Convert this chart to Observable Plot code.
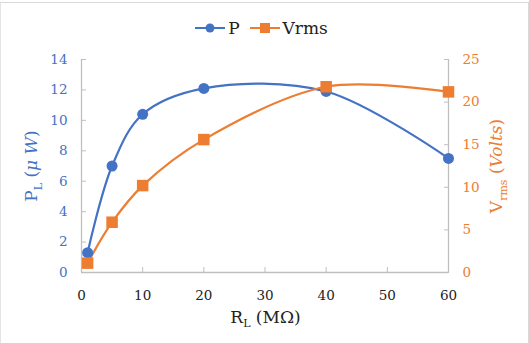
<!DOCTYPE html>
<html>
<head>
<meta charset="utf-8">
<script src="https://cdn.jsdelivr.net/npm/d3@7"></script>
<script src="https://cdn.jsdelivr.net/npm/@observablehq/plot@0.6"></script>
<style>
  body { margin: 0; background: #fff; }
  #wrap { position: relative; width: 529px; height: 341px; box-sizing: border-box; border-top: 1px solid #d9d9d9; border-left: 1px solid #e4e4e4; border-right: 1px solid #d9d9d9; overflow: hidden; font-family: "DejaVu Serif", serif; margin-top: 2px;}
  #legend { height: 42px; display: flex; justify-content: center; align-items: flex-end; gap: 10px; font-size: 17px; color: #222; padding-right: 6px; box-sizing: border-box; padding-bottom: 7px;}
  .item { display: flex; align-items: center; gap: 3px; }
  svg { display: block; }
  #chart svg text { stroke-width: 0.35px; }
</style>
</head>
<body>
<div id="wrap">
  <div id="legend"></div>
  <div id="chart"></div>
</div>
<script>
const RL = [1, 5, 10, 20, 40, 60];
const P = [1.3, 7.0, 10.4, 12.1, 11.9, 7.5];
const Vrms = [1.1, 5.9, 10.2, 15.6, 21.8, 21.2];
const xTicks = [0, 10, 20, 30, 40, 50, 60];
const leftTicks = [0, 2, 4, 6, 8, 10, 12, 14];
const rightTicks = [0, 5, 10, 15, 20, 25];

const blue = "#4472C4", orange = "#ED7D31", grey = "#bfbfbf", ink = "#222";
const k = 14 / 25;

const pData = RL.map((x, i) => ({x, y: P[i]}));
const vData = RL.map((x, i) => ({x, y: Vrms[i] * k}));

// legend
const legend = document.getElementById("legend");
legend.innerHTML = `
<span class="item"><svg width="30" height="12"><line x1="0" x2="30" y1="6" y2="6" stroke="${blue}" stroke-width="2"/><circle cx="15" cy="6" r="4.5" fill="${blue}"/></svg><span>P</span></span>
<span class="item"><svg width="30" height="12"><line x1="0" x2="30" y1="6" y2="6" stroke="${orange}" stroke-width="2"/><rect x="10" y="1" width="10" height="10" fill="${orange}"/></svg><span>Vrms</span></span>`;

const chart = Plot.plot({
  width: 527,
  height: 298,
  marginLeft: 80,
  marginRight: 80,
  marginTop: 14,
  marginBottom: 71,
  style: {fontFamily: "DejaVu Serif, serif", fontSize: "13.5px", background: "white"},
  x: {domain: [0, 60]},
  y: {domain: [0, 14]},
  marks: [
    Plot.ruleX([0], {stroke: grey, strokeWidth: 1.3}),
    Plot.ruleX([60], {stroke: grey, strokeWidth: 1.3}),
    Plot.ruleY([0], {stroke: grey, strokeWidth: 1.3}),
    Plot.axisX({ticks: xTicks, tickSize: -5, stroke: grey, label: null, tickFormat: () => ""}),
    Plot.axisX({ticks: xTicks, tickSize: 0, tickPadding: 18, fill: ink, stroke: ink, label: null, tickFormat: d => d}),
    Plot.axisY({ticks: leftTicks, tickSize: -5, stroke: grey, label: null, anchor: "left", tickFormat: () => ""}),
    Plot.axisY({ticks: leftTicks, tickSize: 0, tickPadding: 14, fill: blue, stroke: blue, label: null, anchor: "left"}),
    Plot.axisY({ticks: rightTicks.map(t => t * k), tickSize: -5, stroke: grey, label: null, anchor: "right", tickFormat: () => ""}),
    Plot.axisY({ticks: rightTicks.map(t => t * k), tickSize: 0, tickPadding: 14, fill: orange, stroke: orange, label: null, anchor: "right", tickFormat: d => Math.round(d / k)}),
    Plot.line(pData, {x: "x", y: "y", stroke: blue, strokeWidth: 2.2, curve: "catmull-rom"}),
    Plot.line(vData, {x: "x", y: "y", stroke: orange, strokeWidth: 2.2, curve: "catmull-rom"}),
    Plot.dot(pData, {x: "x", y: "y", fill: blue, r: 5.5}),
    Plot.dot(vData, {x: "x", y: "y", fill: orange, symbol: "square", r: 6.5}),
  ]
});
document.getElementById("chart").appendChild(chart);

// axis titles (HTML text overlaid)
const wrap = document.getElementById("wrap");
function addLabel(html, style) {
  const d = document.createElement("div");
  d.innerHTML = html;
  Object.assign(d.style, {position: "absolute", whiteSpace: "nowrap", fontSize: "17px"}, style);
  wrap.appendChild(d);
}
addLabel(`R<sub style="font-size:11px">L</sub> (MΩ)`, {left: "0", width: "529px", textAlign: "center", top: "304px", color: ink});
addLabel(`P<sub style="font-size:11px">L</sub> (<i>μ W</i>)`, {left: "32px", top: "163px", color: blue, transform: "translate(-50%,-50%) rotate(-90deg)"});
addLabel(`V<sub style="font-size:11px">rms</sub> (<i>Volts</i>)`, {left: "497px", top: "163px", color: orange, transform: "translate(-50%,-50%) rotate(-90deg)"});
</script>
</body>
</html>
